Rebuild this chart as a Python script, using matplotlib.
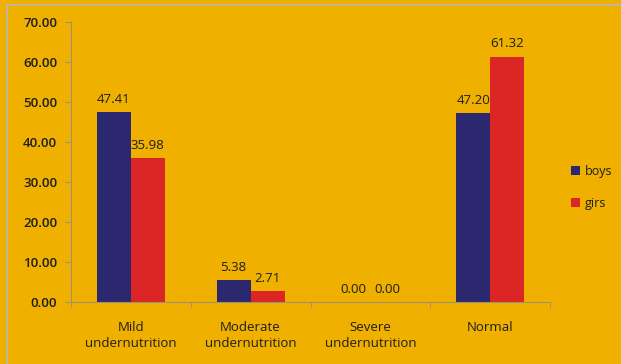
import numpy as np
import matplotlib.pyplot as plt
from matplotlib.patches import Rectangle

# data
categories = ["Mild\nundernutrition", "Moderate\nundernutrition", "Severe\nundernutrition", "Normal"]
boys = [47.41, 5.38, 0.00, 47.20]
girls = [35.98, 2.71, 0.00, 61.32]
series_names = ["boys", "girs"]

bg = "#EFB000"
axis_col = "#9C9270"
txt = "#1E1E1E"
plt.rcParams["font.family"] = ["Open Sans", "DejaVu Sans"]

fig = plt.figure(figsize=(6.21, 3.64), dpi=100, facecolor=bg)
ax = fig.add_axes([0.1143, 0.1703, 0.7714, 0.7693])
ax.set_facecolor(bg)

# outer frame of the chart area
fig.patches.append(Rectangle((0.011, -0.01), 1.2, 0.995, transform=fig.transFigure,
                             fill=False, edgecolor="#B8B8B8", linewidth=1.2))

x = np.arange(len(categories))
w = 0.283
b1 = ax.bar(x - w / 2, boys, w, color="#2B2870", label=series_names[0])
b2 = ax.bar(x + w / 2, girls, w, color="#DC2626", label=series_names[1])

for bars, vals in ((b1, boys), (b2, girls)):
    for r, v in zip(bars, vals):
        ax.text(r.get_x() + r.get_width() / 2, v + 1.6, f"{v:.2f}", ha="center", va="bottom",
                fontsize=9.5, color=txt)

ax.set_xlim(-0.5, len(categories) - 0.5)
ax.set_ylim(0, 70)
ax.set_yticks(np.arange(0, 71, 10))
ax.set_yticklabels([f"{t:.2f}" for t in np.arange(0, 71, 10)], fontsize=9.5,
                   fontweight="semibold", color=txt)
ax.set_xticks(x)
ax.set_xticklabels(categories, fontsize=9.5, color=txt, linespacing=1.25)
ax.set_xticks(np.arange(-0.5, len(categories), 1), minor=True)
ax.tick_params(axis="x", which="major", length=0, pad=14)
ax.tick_params(axis="x", which="minor", length=4, color=axis_col)
ax.tick_params(axis="y", length=4, color=axis_col, pad=6)

for s in ("top", "right"):
    ax.spines[s].set_visible(False)
ax.spines["left"].set_color(axis_col)
ax.spines["bottom"].set_color(axis_col)

leg = ax.legend(loc="center left", bbox_to_anchor=(1.02, 0.41), frameon=False,
                fontsize=9, handlelength=0.7, handleheight=0.7, handletextpad=0.4,
                labelspacing=1.5)
for t in leg.get_texts():
    t.set_color(txt)

fig.savefig("out.png", dpi=100, facecolor=bg)
